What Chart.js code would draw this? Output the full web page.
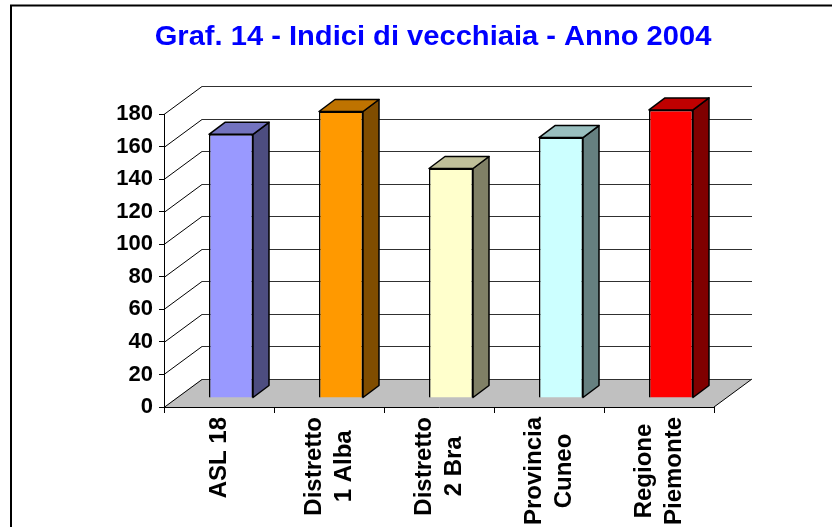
<!DOCTYPE html>
<html>
<head>
<meta charset="utf-8">
<script src="https://cdn.jsdelivr.net/npm/chart.js@4"></script>
<style>
  html, body { margin: 0; padding: 0; background: #fff; }
  canvas { display: block; }
</style>
</head>
<body>
<canvas id="chart" width="832" height="527"></canvas>
<script>
const title = "Graf. 14 - Indici di vecchiaia - Anno 2004";
const categories = [
  ["ASL 18"],
  ["Distretto", "1 Alba"],
  ["Distretto", "2 Bra"],
  ["Provincia", "Cuneo"],
  ["Regione", "Piemonte"],
];
const values = [162, 176, 141, 160, 177];
const frontColors = ["#9999FF", "#FF9900", "#FFFFCC", "#CCFFFF", "#FF0000"];
const topColors = ["#7373BF", "#BF7300", "#BFBF99", "#99BFBF", "#BF0000"];
const sideColors = ["#4D4D80", "#804D00", "#808066", "#668080", "#800000"];
const yMin = 0;
const yMax = 180;
const yStep = 20;

const FONT = '"Liberation Sans", Arial, sans-serif';

// 3d depth of the whole plot (back wall offset), and of the bars
const DEPTH = { dx: 38, dy: -28 };
const BAR_FRONT = { dx: 12, dy: -9 };
const BAR_DEPTH = { dx: 16, dy: -12 };

// walls, floor, border, title
const scenePlugin = {
  id: "scene",
  beforeDraw(chart) {
    const { ctx, chartArea: a, scales } = chart;
    const y = scales.y;
    ctx.save();

    // outer frame
    ctx.strokeStyle = "#000";
    ctx.lineWidth = 2;
    ctx.beginPath();
    ctx.moveTo(11, 527);
    ctx.lineTo(11, 5.5);
    ctx.lineTo(832, 5.5);
    ctx.stroke();

    // floor
    ctx.fillStyle = "#C0C0C0";
    ctx.beginPath();
    ctx.moveTo(a.left, a.bottom);
    ctx.lineTo(a.right, a.bottom);
    ctx.lineTo(a.right + DEPTH.dx, a.bottom + DEPTH.dy);
    ctx.lineTo(a.left + DEPTH.dx, a.bottom + DEPTH.dy);
    ctx.closePath();
    ctx.fill();
    ctx.strokeStyle = "#000";
    ctx.lineWidth = 1;
    ctx.beginPath();
    ctx.moveTo(a.right, a.bottom);
    ctx.lineTo(a.right + DEPTH.dx, a.bottom + DEPTH.dy);
    ctx.stroke();

    // back wall gridlines + side wall diagonals
    y.ticks.forEach((t) => {
      const py = Math.round(y.getPixelForValue(t.value)) + 0.5;
      ctx.strokeStyle = "#303030";
      ctx.beginPath();
      ctx.moveTo(a.left + DEPTH.dx, py + DEPTH.dy);
      ctx.lineTo(a.right + DEPTH.dx, py + DEPTH.dy);
      ctx.stroke();
      ctx.strokeStyle = "#000";
      ctx.beginPath();
      ctx.moveTo(a.left, py);
      ctx.lineTo(a.left + DEPTH.dx, py + DEPTH.dy);
      ctx.stroke();
    });

    // title
    ctx.save();
    ctx.translate(433, 45);
    ctx.scale(1.04, 1);
    ctx.fillStyle = "#0000FF";
    ctx.font = "bold 28px " + FONT;
    ctx.textAlign = "center";
    ctx.textBaseline = "alphabetic";
    ctx.fillText(title, 0, 0);
    ctx.restore();

    ctx.restore();
  },
  beforeDatasetsDraw(chart) {
    // front faces are drawn by Chart.js, pushed back into the box
    chart.ctx.save();
    chart.ctx.translate(BAR_FRONT.dx, BAR_FRONT.dy);
  },
  afterDatasetsDraw(chart) {
    const { ctx } = chart;
    ctx.restore();
    const meta = chart.getDatasetMeta(0);
    ctx.save();
    ctx.strokeStyle = "#000";
    ctx.lineWidth = 1.5;
    ctx.lineJoin = "round";
    meta.data.forEach((bar, i) => {
      const left = bar.x - bar.width / 2 + BAR_FRONT.dx;
      const right = bar.x + bar.width / 2 + BAR_FRONT.dx;
      const top = bar.y + BAR_FRONT.dy;
      const base = bar.base + BAR_FRONT.dy;
      // side face
      ctx.fillStyle = sideColors[i];
      ctx.beginPath();
      ctx.moveTo(right, top);
      ctx.lineTo(right + BAR_DEPTH.dx, top + BAR_DEPTH.dy);
      ctx.lineTo(right + BAR_DEPTH.dx, base + BAR_DEPTH.dy);
      ctx.lineTo(right, base);
      ctx.closePath();
      ctx.fill();
      ctx.stroke();
      // top face
      ctx.fillStyle = topColors[i];
      ctx.beginPath();
      ctx.moveTo(left, top);
      ctx.lineTo(left + BAR_DEPTH.dx, top + BAR_DEPTH.dy);
      ctx.lineTo(right + BAR_DEPTH.dx, top + BAR_DEPTH.dy);
      ctx.lineTo(right, top);
      ctx.closePath();
      ctx.fill();
      ctx.stroke();
    });
    ctx.restore();
  },
  afterDraw(chart) {
    // rotated category labels, lines centred on each other
    const { ctx, scales } = chart;
    const x = scales.x;
    ctx.save();
    ctx.font = "bold 24px " + FONT;
    ctx.fillStyle = "#000";
    ctx.textAlign = "center";
    ctx.textBaseline = "middle";
    const lineH = 30;
    const topY = 417;
    categories.forEach((lines, i) => {
      const cx = x.getPixelForTick(i);
      const w = Math.max(...lines.map((l) => ctx.measureText(l).width));
      const cy = topY + w / 2;
      lines.forEach((line, k) => {
        const lx = cx + (k - (lines.length - 1) / 2) * lineH;
        ctx.save();
        ctx.translate(lx, cy);
        ctx.rotate(-Math.PI / 2);
        ctx.fillText(line, 0, 0);
        ctx.restore();
      });
    });
    ctx.restore();
  },
};

new Chart(document.getElementById("chart").getContext("2d"), {
  type: "bar",
  data: {
    labels: categories,
    datasets: [
      {
        data: values,
        backgroundColor: frontColors,
        borderColor: "#000",
        borderWidth: 1.5,
        barPercentage: 0.4,
        categoryPercentage: 1,
        clip: false,
      },
    ],
  },
  options: {
    responsive: false,
    devicePixelRatio: 1,
    animation: false,
    layout: { padding: { top: 114, left: 0, right: 118, bottom: 0 } },
    plugins: {
      legend: { display: false },
      title: { display: false },
      tooltip: { enabled: false },
    },
    scales: {
      x: {
        grid: {
          display: true,
          drawOnChartArea: false,
          tickLength: 6,
          color: "#000",
        },
        border: { display: true, color: "#000", width: 1 },
        ticks: { display: false },
        afterFit(scale) {
          scale.height = 120;
        },
      },
      y: {
        min: yMin,
        max: yMax,
        grid: {
          drawOnChartArea: false,
          tickLength: 5,
          color: "#000",
        },
        border: { display: true, color: "#000", width: 1 },
        ticks: {
          stepSize: yStep,
          padding: 6,
          color: "#000",
          font: { family: FONT, size: 22, weight: "bold" },
        },
        afterFit(scale) {
          scale.width = 164;
        },
      },
    },
  },
  plugins: [scenePlugin],
});
</script>
</body>
</html>
